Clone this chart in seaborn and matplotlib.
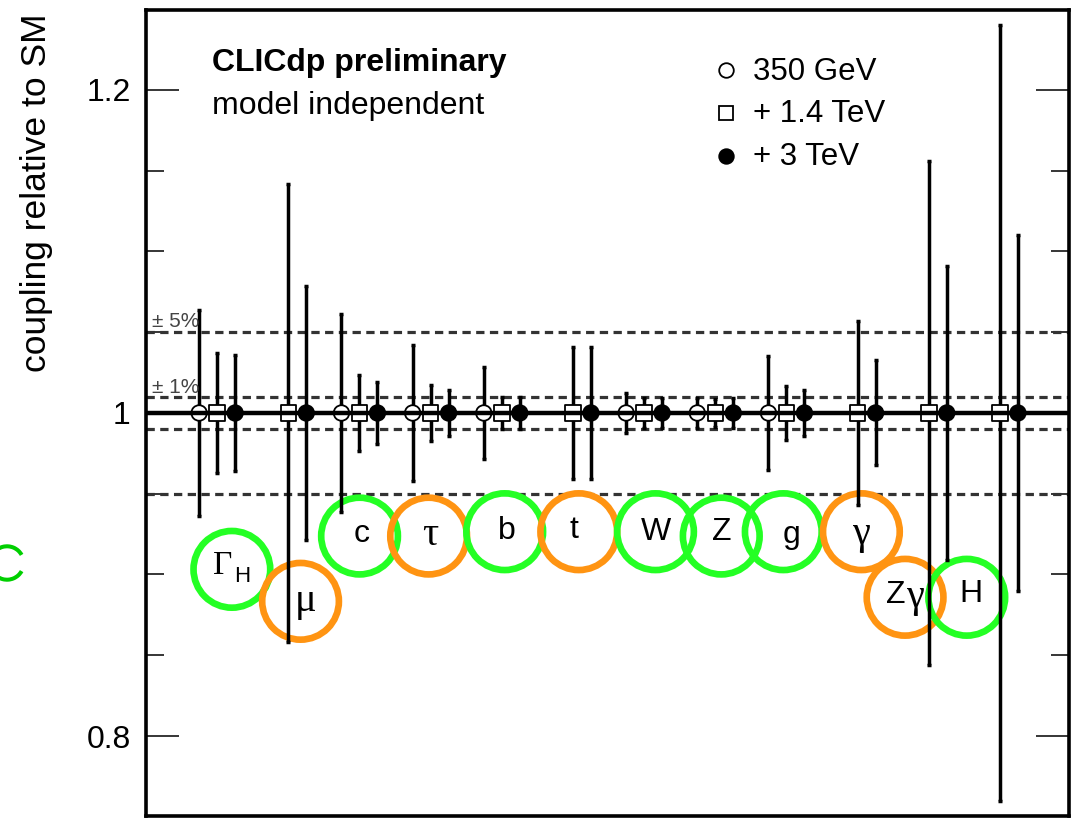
import numpy as np
import pandas as pd
import matplotlib
matplotlib.use("Agg")
import matplotlib.pyplot as plt
import matplotlib.transforms as mtransforms
from matplotlib.patches import Arc
import seaborn as sns

# ---------------- data ----------------
couplings = ["ΓH", "μ", "c", "τ", "b", "t", "W", "Z", "g", "γ", "Zγ", "H"]
stages = ["350 GeV", "+ 1.4 TeV", "+ 3 TeV"]
central_value = 1.0
# relative uncertainties (fraction), NaN = not measured
err_350 = [0.064, np.nan, 0.061, 0.042, 0.0285, np.nan, 0.0125, 0.0093, 0.035, np.nan, np.nan, np.nan]
err_1400 = [0.0374, 0.142, 0.0233, 0.0175, 0.0100, 0.041, 0.0095, 0.0085, 0.017, 0.057, 0.156, 0.240]
err_3000 = [0.0360, 0.0786, 0.0190, 0.0140, 0.0097, 0.041, 0.0095, 0.0090, 0.0145, 0.0325, 0.091, 0.1105]
band_levels = [0.05, 0.01]
y_ticks_major = [0.8, 1.0, 1.2]
y_tick_labels = ["0.8", "1", "1.2"]

# ---------------- style ----------------
sns.set_style("white")
plt.rcParams["font.family"] = ["Liberation Sans", "DejaVu Sans"]
plt.rcParams["text.color"] = "black"
plt.rcParams["axes.labelcolor"] = "black"
plt.rcParams["ytick.color"] = "black"
plt.rcParams["ytick.labelcolor"] = "black"

fig = plt.figure(figsize=(10.71, 8.19), dpi=100)
ax = fig.add_axes([0.1363, 0.0037, 0.8618, 0.9841])

rows = []
for errs, st in zip([err_350, err_1400, err_3000], stages):
    for i, (c, e) in enumerate(zip(couplings, errs)):
        if not np.isnan(e):
            rows.append({"coupling": c, "idx": i, "stage": st, "value": central_value, "err": e})
df = pd.DataFrame(rows)
dodge = {stages[0]: -0.253, stages[1]: 0.0, stages[2]: 0.253}
df["x"] = df["idx"] + df["stage"].map(dodge)

# reference lines
ax.axhline(central_value, color="black", lw=3.2, zorder=5)
for b in band_levels:
    for s in (1, -1):
        ax.axhline(central_value + s * b, color="#333333", lw=2.3,
                   ls=(0, (2.6, 1.7)), zorder=1)

# error bars
for st in stages:
    sub = df[df["stage"] == st]
    ax.errorbar(sub["x"], sub["value"], yerr=sub["err"], fmt="none",
                ecolor="black", elinewidth=2.5, capsize=1.6, capthick=2.5, zorder=3)

# markers through seaborn
sns.scatterplot(data=df, x="x", y="value", hue="stage", style="stage",
                palette={stages[0]: "white", stages[1]: "white", stages[2]: "black"},
                markers={stages[0]: "o", stages[1]: "s", stages[2]: "o"},
                s=125, edgecolor="black", linewidth=1.3, legend=False, ax=ax, zorder=4)

# highlight circles with labels
label_x = [0.207, 1.172, 2.001, 2.972, 4.041, 5.082, 6.160, 7.084, 7.956, 9.053, 9.667, 10.534]
label_y = [0.9032, 0.8834, 0.9238, 0.9238, 0.9265, 0.9265, 0.9265, 0.9238, 0.9265, 0.9265, 0.8859, 0.8859]
green = "#24ff24"
orange = "#ff9412"
ring_colors = [green, orange, green, orange, green, orange, green, green, green, orange, orange, green]
ax.scatter(label_x, label_y, s=3050, facecolors="none", edgecolors=ring_colors,
           linewidths=4.8, zorder=2)

serif = ["Liberation Serif", "DejaVu Serif"]
sans = ["Liberation Sans", "DejaVu Sans"]
label_parts = [
    [("Γ", serif, 24, -9, -4), ("H", sans, 16, 10, 7)],
    [("μ", serif, 29, 5, 0)],
    [("c", sans, 23, 2, -2)],
    [("τ", serif, 29, 2, -1)],
    [("b", sans, 23, 2, -1)],
    [("t", sans, 23, -5, -2)],
    [("W", sans, 23, 0, 0)],
    [("Z", sans, 23, 0, -4)],
    [("g", sans, 23, 8, 3)],
    [("γ", serif, 29, 0, 3)],
    [("Z", sans, 23, -9, -2), ("γ", serif, 29, 11, 0)],
    [("H", sans, 23, 4, -3)],
]
px2pt = 72 / 100
for lx, ly, parts in zip(label_x, label_y, label_parts):
    for txt, fam, fs, dx, dy in parts:
        ax.annotate(txt, xy=(lx, ly), xytext=(dx * px2pt, -dy * px2pt),
                    textcoords="offset points", ha="center", va="center",
                    fontsize=fs, family=fam, color="black", zorder=6)

# axes limits & ticks
ax.set_xlim(-1.0, 11.97)
ax.set_ylim(0.7505, 1.2495)
ax.set_xticks([])
ax.set_yticks(y_ticks_major)
ax.set_yticklabels(y_tick_labels)
ax.set_yticks([0.85, 0.9, 0.95, 1.05, 1.1, 1.15], minor=True)
ax.tick_params(axis="y", which="both", direction="in", left=True, right=True,
               width=1.1, color="black", labelcolor="black", labelsize=23, pad=11)
ax.tick_params(axis="y", which="major", length=24)
ax.tick_params(axis="y", which="minor", length=13)
for sp in ax.spines.values():
    sp.set_visible(True)
    sp.set_linewidth(2.6)
    sp.set_color("black")
ax.set_xlabel("")
ax.set_ylabel("coupling relative to SM", fontsize=25.5, loc="top", color="black")
ax.yaxis.set_label_coords(-0.101, 0.996)

# texts
ax.text(0.0715, 0.9243, "CLICdp preliminary", transform=ax.transAxes,
        fontsize=23, fontweight="bold", va="baseline", ha="left", color="black")
ax.text(0.0715, 0.871, "model independent", transform=ax.transAxes,
        fontsize=23, va="baseline", ha="left", color="black")

blend = mtransforms.blended_transform_factory(ax.transAxes, ax.transData)
ax.text(0.0065, 1.053, "± 5%", transform=blend, fontsize=15, color="#444444", va="baseline")
ax.text(0.0065, 1.0124, "± 1%", transform=blend, fontsize=15, color="#444444", va="baseline")

# legend (manual)
leg_marker_y = [0.925, 0.872, 0.819]
leg_text_y = [0.9132, 0.861, 0.8077]
leg_styles = [("o", "white"), ("s", "white"), ("o", "black")]
for st, my, ty, (mk, fc) in zip(stages, leg_marker_y, leg_text_y, leg_styles):
    ax.plot([0.6284], [my], marker=mk, ms=10.5, mfc=fc, mec="black", mew=1.3,
            ls="none", transform=ax.transAxes)
    ax.text(0.6576, ty, st, transform=ax.transAxes, fontsize=22.5, va="baseline",
            ha="left", color="black")

# partial green mark at left edge
arc = Arc((7 / 1071, 1 - 563 / 819), 2 * 16.7 / 1071, 2 * 16.7 / 819,
          theta1=36, theta2=324, transform=fig.transFigure, color="#00cf00", lw=2.9)
fig.patches.append(arc)

fig.savefig("out.png", dpi=100)
